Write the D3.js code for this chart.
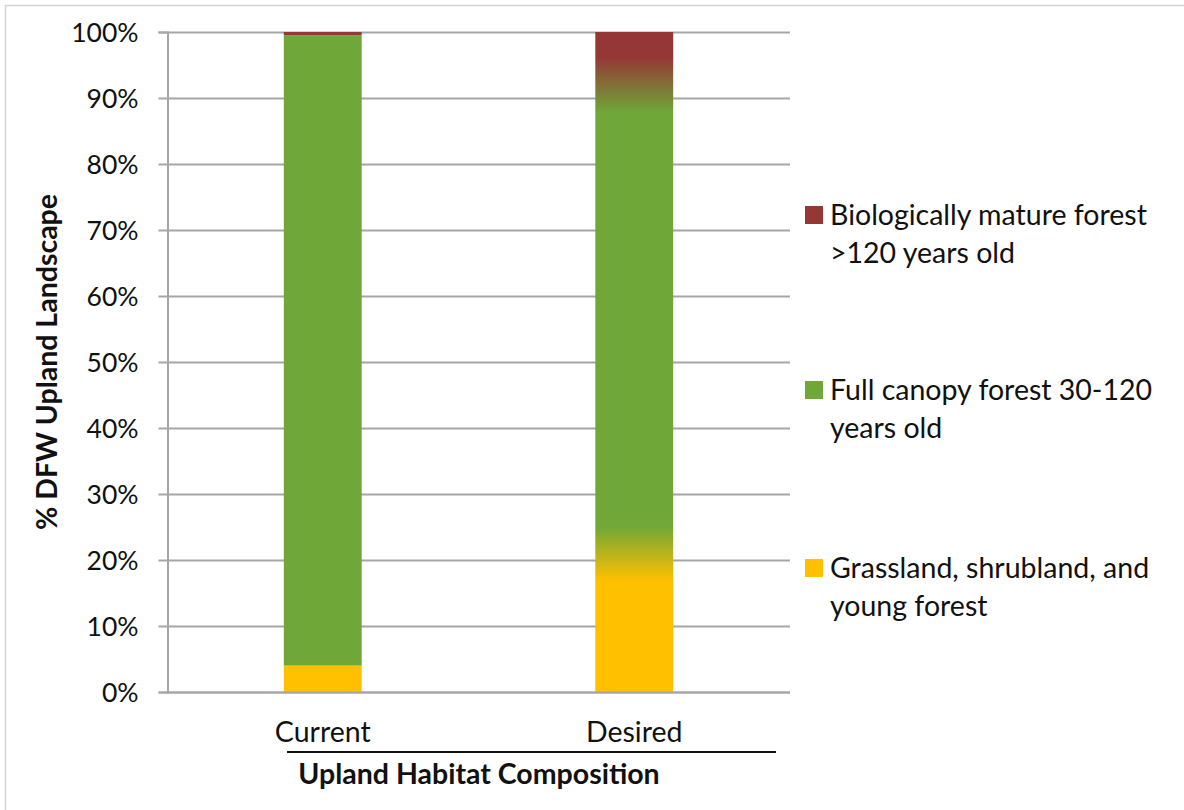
<!DOCTYPE html>
<html>
<head>
<meta charset="utf-8">
<script src="https://cdn.jsdelivr.net/npm/d3@7"></script>
<style>
  html, body { margin: 0; padding: 0; background: #fff; }
  svg text { font-family: Lato, "Open Sans", sans-serif; fill: #111; }
</style>
</head>
<body>
<svg id="chart" width="1184" height="810"></svg>
<script>
// Habitat composition, percent of upland landscape
const categories = ["Current", "Desired"];
const seriesNames = ["Grassland, shrubland, and young forest",
                     "Full canopy forest 30-120 years old",
                     "Biologically mature forest >120 years old"];
const youngForest = [4, 21];
const fullCanopy = [95.5, 71];
const matureForest = [0.5, 8];
// Desired composition blends across class boundaries (± percent)
const blendHalfWidth = [0, 4.2];
const yTicks = [0, 10, 20, 30, 40, 50, 60, 70, 80, 90, 100];
const legendLines = [
  ["Biologically mature forest", ">120 years old"],
  ["Full canopy forest 30-120", "years old"],
  ["Grassland, shrubland, and", "young forest"]
];
const colors = ["#FFC000", "#6FA738", "#953735"];

const svg = d3.select("#chart");

// outer frame
svg.append("line").attr("x1", 5).attr("x2", 1184).attr("y1", 5.5).attr("y2", 5.5)
  .attr("stroke", "#d4d4d4").attr("stroke-width", 1.5);
svg.append("line").attr("x1", 5.5).attr("x2", 5.5).attr("y1", 5).attr("y2", 810)
  .attr("stroke", "#d4d4d4").attr("stroke-width", 1.5);

const plot = { left: 167, right: 790, top: 32, bottom: 692 };

const x = d3.scaleBand().domain(categories).range([plot.left, plot.right]).padding(0);
const barWidth = x.bandwidth() * 0.25;
const y = d3.scaleLinear().domain([0, 100]).range([plot.bottom, plot.top]);

// gridlines
svg.append("g").selectAll("line").data(yTicks).join("line")
  .attr("x1", plot.left).attr("x2", plot.right)
  .attr("y1", d => Math.round(y(d)) + 0.5).attr("y2", d => Math.round(y(d)) + 0.5)
  .attr("stroke", "#a6a6a6").attr("stroke-width", 2);

// y axis
const yAxis = d3.axisLeft(y).tickValues(yTicks).tickFormat(d => d + "%")
  .tickSize(9).tickPadding(20);
const gy = svg.append("g").attr("transform", `translate(${plot.left + 0.5},0)`).call(yAxis);
gy.select(".domain").attr("stroke", "#a6a6a6").attr("stroke-width", 2);
gy.selectAll(".tick line").attr("stroke", "#a6a6a6").attr("stroke-width", 2);
gy.selectAll(".tick text").attr("font-size", 26.5).attr("font-family", "Lato, sans-serif")
  .attr("fill", "#111").attr("dy", "0.35em");

// stacked data
const rows = categories.map((c, i) => ({
  cat: c, blend: blendHalfWidth[i],
  parts: [youngForest[i], fullCanopy[i], matureForest[i]]
}));

const defs = svg.append("defs");

rows.forEach((r, i) => {
  const x0 = x(r.cat) + (x.bandwidth() - barWidth) / 2;
  let cum = 0;
  const bounds = r.parts.map(v => { const s = cum; cum += v; return [s, cum]; });
  if (r.blend > 0) {
    // one bar whose fill fades between the classes
    const gid = "grad" + i;
    const g = defs.append("linearGradient").attr("id", gid)
      .attr("gradientUnits", "userSpaceOnUse")
      .attr("x1", 0).attr("x2", 0).attr("y1", y(0)).attr("y2", y(cum));
    const stops = [];
    bounds.forEach((b, k) => {
      const lo = k === 0 ? b[0] : b[0] + r.blend;
      const hi = k === bounds.length - 1 ? b[1] : b[1] - r.blend;
      stops.push([lo / cum, colors[k]], [hi / cum, colors[k]]);
    });
    g.selectAll("stop").data(stops).join("stop")
      .attr("offset", d => d[0]).attr("stop-color", d => d[1]);
    svg.append("rect").attr("x", x0).attr("width", barWidth)
      .attr("y", y(cum)).attr("height", y(0) - y(cum))
      .attr("fill", `url(#${gid})`);
  } else {
    svg.append("g").selectAll("rect").data(bounds).join("rect")
      .attr("x", x0).attr("width", barWidth)
      .attr("y", d => y(d[1])).attr("height", d => y(d[0]) - y(d[1]))
      .attr("fill", (d, k) => colors[k]);
  }
});

// x axis baseline
svg.append("line").attr("x1", plot.left).attr("x2", plot.right)
  .attr("y1", y(0) + 0.5).attr("y2", y(0) + 0.5)
  .attr("stroke", "#a6a6a6").attr("stroke-width", 2);

// category labels
svg.append("g").selectAll("text").data(categories).join("text")
  .attr("x", d => x(d) + x.bandwidth() / 2).attr("y", 742)
  .attr("text-anchor", "middle").attr("font-size", 28.5).text(d => d);

// rule above the axis title
svg.append("line").attr("x1", 287).attr("x2", 776).attr("y1", 752).attr("y2", 752)
  .attr("stroke", "#111").attr("stroke-width", 2);

svg.append("text").attr("x", 479).attr("y", 784).attr("text-anchor", "middle")
  .attr("font-size", 28.5).attr("font-weight", "bold").text("Upland Habitat Composition");

// y axis title
svg.append("text").attr("transform", `translate(57,${(plot.top + plot.bottom) / 2}) rotate(-90)`)
  .attr("text-anchor", "middle").attr("font-size", 28.5).attr("font-weight", "bold")
  .text("% DFW Upland Landscape");

// legend (top to bottom: mature, full canopy, young)
const legendOrder = [2, 1, 0];
const legendY = [215, 390, 568];
const lg = svg.append("g").selectAll("g").data(legendOrder).join("g")
  .attr("transform", (d, i) => `translate(805,${legendY[i]})`);
lg.append("rect").attr("x", 0).attr("y", -9).attr("width", 18).attr("height", 18)
  .attr("fill", d => colors[d]);
lg.each(function (d, i) {
  const t = d3.select(this).append("text").attr("x", 25).attr("y", 0)
    .attr("font-size", 28.5);
  legendLines[i].forEach((line, j) => {
    t.append("tspan").attr("x", 25).attr("dy", j === 0 ? "0.35em" : 38).text(line);
  });
});
</script>
</body>
</html>
